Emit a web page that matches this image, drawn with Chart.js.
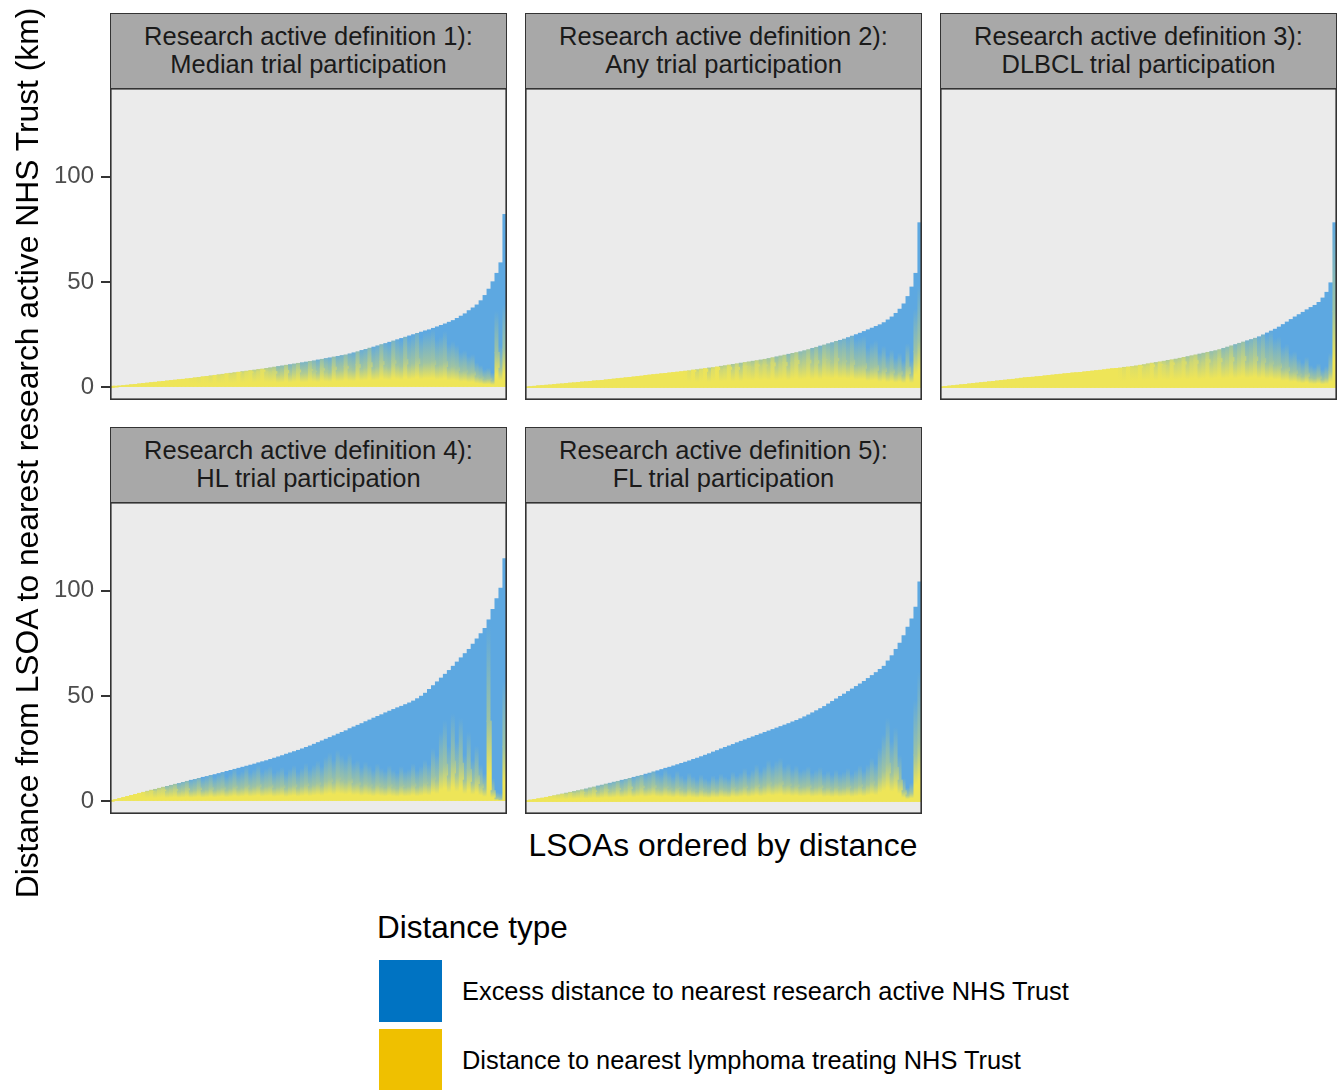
<!DOCTYPE html>
<html>
<head>
<meta charset="utf-8">
<script src="https://cdn.jsdelivr.net/npm/chart.js@4.4.1/dist/chart.umd.min.js"></script>
<style>
  body { margin: 0; background: #fff; width: 1338px; height: 1090px; position: relative; overflow: hidden;
         font-family: "Liberation Sans", Arial, Helvetica, sans-serif; }
  .strip { position: absolute; background: #a8a8a8; border: 1.5px solid #333; box-sizing: border-box;
           color: #1a1a1a; font-size: 25.5px; line-height: 28px; text-align: center; padding-top: 8px; }
  .cv { position: absolute; }
  .ytitle { position: absolute; width: 1000px; height: 40px; line-height: 40px; text-align: center;
            font-size: 31.8px; color: #000; transform: rotate(-90deg); white-space: nowrap; }
  .xtitle { position: absolute; font-size: 31.8px; color: #000; white-space: nowrap; }
  .legtitle { position: absolute; font-size: 31.5px; color: #000; white-space: nowrap; }
  .key { position: absolute; width: 63px; height: 62px; }
  .leglab { position: absolute; font-size: 25.4px; color: #000; white-space: nowrap; }
</style>
</head>
<body>
<div id="root"></div>
<script>
// Facet titles
const panelTitles = [
  ["Research active definition 1):", "Median trial participation"],
  ["Research active definition 2):", "Any trial participation"],
  ["Research active definition 3):", "DLBCL trial participation"],
  ["Research active definition 4):", "HL trial participation"],
  ["Research active definition 5):", "FL trial participation"]
];
const seriesNames = ["Distance to nearest lymphoma treating NHS Trust", "Excess distance to nearest research active NHS Trust"];
const legendOrder = ["Excess distance to nearest research active NHS Trust", "Distance to nearest lymphoma treating NHS Trust"];
const yTickValues = [0, 50, 100];
const lsoaRank = Array.from({ length: 100 }, (_, i) => i + 1);

// Definition 1: distance to nearest lymphoma trust (km) and excess distance (km), LSOAs ordered by total
const lymph1 = [0.1,0.3,0.5,0.7,0.9,1.1,1.3,1.5,1.7,1.9, 2.1,2.3,2.5,2.7,2.9,3.1,3.3,3.5,3.7,3.9,
  4.0,4.3,4.3,4.8,4.9,4.9,5.5,5.3,5.6,6.2, 5.8,6.1,6.9,6.3,6.9,7.3,6.6,7.2,8.0,7.1,
  7.0,7.4,6.2,6.6,7.9,6.4,7.2,8.2,6.8,7.0, 8.4,7.6,6.9,8.8,7.7,7.3,9.5,8.0,8.3,9.9,
  8.6,8.4,10.8,9.0,9.6,11.6,9.3,10.0,12.2,10.4, 9.8,12.6,11.0,10.2,13.1,10.6,11.5,13.4,10.8,11.9,
  12.0,12.6,10.4,11.0,12.2,9.4,10.0,9.2,7.6,8.0, 6.8,7.2,5.4,4.8,3.9,4.2,3.2,16.5,9.0,18.0];
const excess1 = [0,0,0,0,0,0,0,0,0,0, 0,0,0,0,0,0,0,0,0,0,
  0.1,0.1,0.3,0.1,0.2,0.5,0.1,0.6,0.5,0.2, 0.8,0.8,0.2,1.1,0.7,0.6,1.5,1.2,0.6,1.8,
  2.2,2.1,3.6,3.5,2.5,4.3,3.8,3.1,4.8,4.9, 3.8,4.9,6.0,4.4,5.9,6.6,4.8,6.6,6.7,5.4,
  7.2,7.9,6.0,8.4,8.3,6.9,9.7,9.6,8.0,10.3, 11.5,9.3,11.5,12.9,10.6,13.7,13.4,12.1,15.3,14.8,
  15.2,15.3,18.2,18.3,17.8,21.4,21.6,23.4,26.1,26.8, 29.5,30.4,33.6,36.2,39.6,42.3,46.8,37.5,50.0,64.0];

// Definition 2
const lymph2 = [0.1,0.2,0.4,0.6,0.7,0.9,1.0,1.2,1.4,1.5, 1.7,1.9,2.0,2.2,2.4,2.5,2.7,2.9,3.0,3.2,
  3.4,3.6,3.8,4.0,4.2,4.4,4.6,4.8,5.0,5.2, 5.5,5.7,5.9,6.1,6.3,6.5,6.7,6.9,7.1,7.3,
  7.5,7.1,8.0,7.0,7.8,8.6,7.1,8.3,9.4,7.9, 8.3,9.5,8.1,9.4,8.1,9.9,9.5,9.2,10.6,9.7,
  10.5,9.8,11.5,9.7,10.7,11.7,9.8,11.5,12.7,10.8, 11.4,12.8,11.1,12.6,11.0,13.2,12.6,12.0,13.7,12.1,
  12.7,11.6,12.8,10.4,10.8,11.2,8.6,9.6,10.2,7.6, 9.0,7.0,8.2,6.4,7.5,5.8,9.5,6.0,17.0,22.0];
const excess2 = [0,0,0,0,0,0,0,0,0,0, 0,0,0,0,0,0,0,0,0,0,
  0,0,0,0,0,0,0,0,0,0, 0,0,0,0,0,0,0,0,0,0,
  0.1,0.7,0.1,1.3,0.8,0.2,2.0,1.0,0.2,2.0, 1.9,1.0,2.7,1.7,3.3,1.8,2.5,3.1,2.0,3.2,
  2.7,3.8,2.5,4.7,4.1,3.5,5.8,4.5,3.7,6.0, 5.9,5.0,7.3,6.3,8.5,6.8,8.0,9.1,8.0,10.1,
  10.1,11.9,11.4,14.5,14.8,15.2,18.6,18.4,18.6,22.0, 21.6,24.9,25.1,28.6,29.5,33.7,33.5,41.5,37.0,56.0];

// Definition 3
const lymph3 = [0.1,0.3,0.5,0.7,0.9,1.1,1.3,1.5,1.7,1.9, 2.1,2.3,2.5,2.7,2.9,3.1,3.3,3.5,3.7,3.9,
  4.2,4.4,4.6,4.7,4.9,5.1,5.3,5.5,5.7,5.9, 6.1,6.3,6.5,6.7,6.8,7.0,7.2,7.4,7.6,7.8,
  8.0,8.2,8.5,8.7,8.9,8.8,8.6,9.3,8.9,9.0, 9.9,9.1,9.6,10.6,9.4,10.8,10.2,9.9,11.5,10.4,
  10.9,12.0,10.6,11.8,12.6,10.9,11.6,13.0,11.4,12.2, 13.6,11.7,12.5,14.1,12.0,13.4,14.6,12.3,13.1,14.4,
  12.2,13.6,11.4,12.4,10.6,11.0,8.8,9.4,7.4,7.8, 6.2,5.4,6.6,4.8,4.4,5.2,3.9,4.6,7.5,36.0];
const excess3 = [0,0,0,0,0,0,0,0,0,0, 0,0,0,0,0,0,0,0,0,0,
  0,0,0,0,0,0,0,0,0,0, 0,0,0,0,0,0,0,0,0,0,
  0,0,0,0,0,0.3,0.8,0.3,0.9,1.1, 0.5,1.6,1.5,0.8,2.3,1.2,2.1,2.8,1.5,2.9,
  2.8,2.1,3.9,3.1,2.7,4.8,4.5,3.5,5.5,5.1, 4.2,6.7,6.5,5.5,8.2,7.4,6.8,9.7,9.5,8.8,
  11.7,11.2,14.3,14.2,16.9,17.5,20.9,21.5,24.7,25.5, 28.2,30.1,30.1,33.0,34.4,35.0,38.4,40.4,42.0,42.0];

// Definition 4
const lymph4 = [0.2,0.7,1.2,1.7,2.2,2.7,3.2,3.7,4.0,4.1, 4.6,4.3,4.9,5.3,4.6,5.0,5.6,4.8,5.2,5.9,
  5.0,5.4,6.2,5.1,5.6,6.4,5.3,6.0,6.6,5.4, 6.1,7.2,6.0,6.5,7.6,6.3,7.0,7.9,6.4,7.1,
  7.6,6.2,6.8,7.4,6.0,7.0,7.8,6.4,7.2,8.3, 7.0,7.9,8.8,7.6,9.6,10.6,9.0,11.2,10.0,9.2,
  10.4,8.4,9.0,7.4,8.6,7.8,6.8,8.2,7.2,6.6, 7.8,6.8,6.2,7.6,6.6,7.0,8.2,6.8,7.6,9.0,
  8.0,11.5,10.0,15.0,17.5,12.0,19.0,13.0,18.0,10.0, 15.0,9.0,12.0,8.0,6.0,38.0,5.0,1.5,1.0,26.0];
const excess4 = [0,0,0,0,0,0,0,0,0.2,0.6, 0.6,1.3,1.2,1.3,2.4,2.5,2.4,3.6,3.7,3.5,
  4.9,4.9,4.6,6.2,6.1,5.8,7.3,7.1,7.0,8.7, 8.5,7.9,9.6,9.6,9.0,10.8,10.6,10.3,12.3,12.1,
  12.2,14.2,14.2,14.2,16.3,15.9,15.7,17.7,17.6,17.2, 19.2,19.1,19.0,21.0,19.8,19.6,22.0,20.6,22.6,24.2,
  24.0,26.8,27.0,29.4,29.1,30.7,32.6,32.0,33.8,35.3, 34.9,36.7,38.1,37.4,39.2,39.6,39.3,41.8,42.2,42.2,
  45.0,43.3,46.6,43.4,42.7,50.0,45.0,53.0,50.0,60.0, 57.0,65.5,65.0,71.5,76.0,48.0,86.0,94.5,100.0,89.0];

// Definition 5
const lymph5 = [0.2,0.5,0.8,1.1,1.4,1.8,2.1,2.4,2.6,3.0, 3.0,3.5,3.4,3.7,4.2,3.8,4.3,4.9,4.2,4.7,
  5.4,4.8,5.2,6.0,5.2,5.8,6.7,5.6,6.3,7.1, 6.0,6.6,7.4,6.2,5.8,7.0,6.1,5.4,6.6,5.6,
  5.0,6.2,5.4,4.8,5.8,5.0,4.6,5.6,5.0,6.0, 5.4,5.0,6.4,5.6,6.2,7.2,6.0,6.8,8.0,6.6,
  7.6,9.0,7.8,8.8,9.4,7.6,8.2,7.0,7.8,6.6, 7.0,7.6,6.2,6.8,7.4,6.0,6.6,5.8,6.8,6.0,
  6.4,7.2,6.0,6.8,7.8,6.6,8.0,9.4,8.2,11.6, 14.5,18.0,13.0,16.0,10.0,5.0,3.0,4.0,22.0,28.0];
const excess5 = [0,0,0,0,0,0,0.1,0.2,0.4,0.4, 0.8,0.7,1.2,1.3,1.2,2.0,2.0,1.8,3.0,2.9,
  2.7,3.7,3.8,3.4,4.7,4.5,4.1,5.7,5.5,5.1, 6.8,6.7,6.5,8.2,9.2,8.6,10.0,11.3,10.7,12.3,
  13.5,12.9,14.4,15.6,15.3,16.8,17.9,17.7,19.0,18.8, 20.1,21.2,20.5,22.1,22.2,21.9,23.8,23.7,23.2,25.3,
  25.0,24.3,26.2,25.9,26.0,28.5,28.6,30.6,30.5,32.5, 33.0,33.3,35.7,36.1,36.5,38.9,39.5,41.5,41.7,43.7,
  44.4,44.8,47.2,47.6,47.8,50.2,50.2,50.2,52.8,50.9, 49.5,48.5,56.0,56.0,65.0,73.5,79.5,82.5,70.0,76.0];

const panelData = [
  { lymph: lymph1, excess: excess1 },
  { lymph: lymph2, excess: excess2 },
  { lymph: lymph3, excess: excess3 },
  { lymph: lymph4, excess: excess4 },
  { lymph: lymph5, excess: excess5 }
];

// Facet grid geometry
const colLeft = [110, 525, 940];
const rowTop = [13, 427];
const panelW = 397, stripH = 75, plotH = 312, axisW = 70;
const yMin = -6, yMax = 142;

const YEL = [238, 229, 88];
const BLU = [93, 168, 225];
function mix(t) {
  const c = YEL.map((v, k) => Math.round(v + (BLU[k] - v) * t));
  return `rgb(${c[0]},${c[1]},${c[2]})`;
}
const YEL_S = mix(0), BLU_S = mix(1);

// Soft blend between the two stacked parts of each bar
function lymphFill(ctx) {
  if (ctx.type !== 'data') return YEL_S;
  const chart = ctx.chart, ys = chart.scales.y, d = panelData[chart.options.plugins.facet.index];
  const i = ctx.dataIndex, yv = d.lymph[i], ev = d.excess[i];
  if (!ys || !chart.chartArea) return YEL_S;
  const p0 = ys.getPixelForValue(0), p1 = ys.getPixelForValue(yv);
  if (!isFinite(p0) || !isFinite(p1) || Math.abs(p0 - p1) < 1) return YEL_S;
  const share = ev / (yv + ev);
  const g = chart.ctx.createLinearGradient(0, p0, 0, p1);
  g.addColorStop(0, YEL_S);
  g.addColorStop(0.35, YEL_S);
  g.addColorStop(1, mix(Math.min(0.55, share * 1.1)));
  return g;
}
function excessFill(ctx) {
  if (ctx.type !== 'data') return BLU_S;
  const chart = ctx.chart, ys = chart.scales.y, d = panelData[chart.options.plugins.facet.index];
  const i = ctx.dataIndex, yv = d.lymph[i], ev = d.excess[i];
  if (!ys || !chart.chartArea) return BLU_S;
  const share = ev / (yv + ev);
  const span = Math.max(3, yv * 1.2);
  const p0 = ys.getPixelForValue(yv), p1 = ys.getPixelForValue(yv + span);
  if (!isFinite(p0) || !isFinite(p1)) return BLU_S;
  const g = chart.ctx.createLinearGradient(0, p0, 0, p1);
  g.addColorStop(0, mix(Math.min(0.55, share * 1.1)));
  g.addColorStop(1, BLU_S);
  return g;
}

const panelFrame = {
  id: 'panelFrame',
  beforeDatasetsDraw(chart) {
    const a = chart.chartArea, c = chart.ctx;
    c.save(); c.fillStyle = '#ebebeb'; c.fillRect(a.left, a.top, a.right - a.left, a.bottom - a.top); c.restore();
  },
  afterDraw(chart) {
    const a = chart.chartArea, c = chart.ctx;
    c.save(); c.strokeStyle = '#333'; c.lineWidth = 1.6;
    c.strokeRect(a.left + 0.8, a.top + 0.8, a.right - a.left - 1.6, a.bottom - a.top - 1.6); c.restore();
  }
};

const root = document.getElementById('root');
function el(cls, style, html) {
  const e = document.createElement('div');
  e.className = cls; Object.assign(e.style, style); if (html != null) e.innerHTML = html;
  root.appendChild(e); return e;
}

panelTitles.forEach((title, k) => {
  const col = k % 3, row = Math.floor(k / 3);
  const left = colLeft[col], top = rowTop[row];
  el('strip', { left: left + 'px', top: top + 'px', width: panelW + 'px', height: (stripH + 1) + 'px' },
     title[0] + '<br>' + title[1]);

  const showAxis = col === 0;
  const cw = panelW + (showAxis ? axisW : 0);
  const wrap = el('cv', { left: (left - (showAxis ? axisW : 0)) + 'px', top: (top + stripH) + 'px',
                          width: cw + 'px', height: plotH + 'px' });
  const canvas = document.createElement('canvas');
  canvas.width = cw; canvas.height = plotH;
  canvas.style.width = cw + 'px'; canvas.style.height = plotH + 'px';
  wrap.appendChild(canvas);

  const d = panelData[k];
  const yScale = {
    stacked: true, min: yMin, max: yMax, display: showAxis,
    afterBuildTicks: s => { s.ticks = yTickValues.map(v => ({ value: v })); },
    border: { display: false },
    grid: { drawOnChartArea: false, drawTicks: true, tickLength: 9, color: '#333', lineWidth: 2 },
    ticks: { padding: 7, color: '#4d4d4d', font: { family: 'Liberation Sans', size: 24 } }
  };
  if (showAxis) yScale.afterFit = s => { s.width = axisW; s.paddingTop = 0; s.paddingBottom = 0; };

  new Chart(canvas, {
    type: 'bar',
    data: {
      labels: lsoaRank,
      datasets: [
        { label: seriesNames[0], data: d.lymph, backgroundColor: lymphFill, stack: 's' },
        { label: seriesNames[1], data: d.excess, backgroundColor: excessFill, stack: 's' }
      ]
    },
    options: {
      responsive: false, animation: false, devicePixelRatio: 1,
      layout: { padding: 0, autoPadding: false },
      datasets: { bar: { barPercentage: 1, categoryPercentage: 1, borderWidth: 0, inflateAmount: 0.6 } },
      plugins: { legend: { display: false }, tooltip: { enabled: false }, facet: { index: k } },
      scales: {
        x: { stacked: true, display: false, offset: true },
        y: yScale
      }
    },
    plugins: [panelFrame]
  });
});

// Axis titles
el('ytitle', { left: (27 - 500) + 'px', top: (453 - 20) + 'px' },
   'Distance from LSOA to nearest research active NHS Trust (km)');
const xt = el('xtitle', { top: '827px' }, 'LSOAs ordered by distance');
xt.style.left = (723 - xt.offsetWidth / 2) + 'px';

// Legend
el('legtitle', { left: '377px', top: '909px' }, 'Distance type');
const keyColors = ['#0073C2', '#EFC000'];
legendOrder.forEach((lab, j) => {
  el('key', { left: '379px', top: (960 + j * 69) + 'px', background: keyColors[j] });
  el('leglab', { left: '462px', top: (977 + j * 69) + 'px' }, lab);
});
</script>
</body>
</html>
